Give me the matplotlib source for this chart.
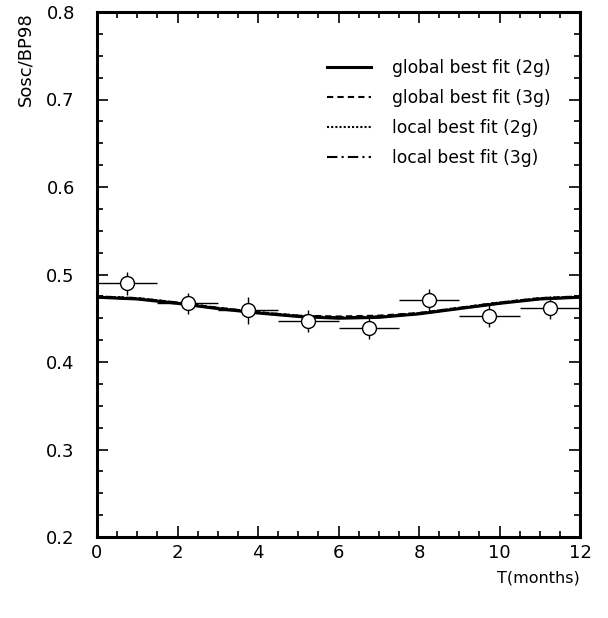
import matplotlib
matplotlib.use("Agg")
import matplotlib.pyplot as plt
import numpy as np
from matplotlib.ticker import MultipleLocator

# Data points (bins of 1.5 months)
t_data = [0.75, 2.25, 3.75, 5.25, 6.75, 8.25, 9.75, 11.25]
t_err = [0.75, 0.75, 0.75, 0.75, 0.75, 0.75, 0.75, 0.75]
r_data = [0.490, 0.467, 0.459, 0.447, 0.439, 0.471, 0.453, 0.462]
r_err = [0.013, 0.012, 0.015, 0.013, 0.013, 0.013, 0.013, 0.013]

# Fit curves
t_curve = [0, 1, 2, 3, 4, 5, 6, 7, 8, 9, 10, 11, 12]
glob2g = [0.474, 0.472, 0.467, 0.461, 0.456, 0.452, 0.450, 0.451, 0.455, 0.461, 0.467, 0.472, 0.474]
glob3g = [0.475, 0.473, 0.468, 0.462, 0.457, 0.453, 0.452, 0.453, 0.456, 0.462, 0.468, 0.473, 0.475]
loc2g = [0.475, 0.473, 0.468, 0.462, 0.457, 0.453, 0.451, 0.452, 0.456, 0.462, 0.468, 0.473, 0.475]
loc3g = [0.474, 0.472, 0.467, 0.461, 0.456, 0.452, 0.451, 0.452, 0.455, 0.461, 0.467, 0.472, 0.474]

labels = ["global best fit (2g)", "global best fit (3g)",
          "local best fit (2g)", "local best fit (3g)"]

fig = plt.figure(figsize=(6.08, 6.18), dpi=100)
ax = fig.add_axes([97/608, 81/618, 483/608, 525/618])

ax.plot(t_curve, glob2g, color="black", lw=2.2, ls="-", label=labels[0])
ax.plot(t_curve, glob3g, color="black", lw=1.5, ls=(0, (3, 2)), label=labels[1])
ax.plot(t_curve, loc2g, color="black", lw=1.5, ls=(0, (1, 1)), label=labels[2])
ax.plot(t_curve, loc3g, color="black", lw=1.5, ls=(0, (5, 2, 1, 2)), label=labels[3])

ax.errorbar(t_data, r_data, xerr=t_err, yerr=r_err, fmt="o", color="black",
            mfc="white", mec="black", ms=10, mew=1.0, elinewidth=1.0, capsize=0,
            zorder=5)

ax.set_xlim(0, 12)
ax.set_ylim(0.2, 0.8)
ax.xaxis.set_major_locator(MultipleLocator(2))
ax.xaxis.set_minor_locator(MultipleLocator(0.5))
ax.yaxis.set_major_locator(MultipleLocator(0.1))
ax.yaxis.set_minor_locator(MultipleLocator(0.025))
ax.tick_params(which="both", direction="in", top=True, right=True, width=1.2)
ax.tick_params(which="major", length=8, labelsize=13)
ax.tick_params(axis="y", which="major", pad=16)
ax.tick_params(axis="x", which="major", pad=5)
ax.tick_params(which="minor", length=4.5)
for s in ax.spines.values():
    s.set_linewidth(2.2)
ax.set_yticks(np.arange(0.2, 0.81, 0.1))
ax.set_yticklabels([f"{v:.1f}" for v in np.arange(0.2, 0.81, 0.1)])

fig.text(25/608, 1 - 12/618, "Sosc/BP98", rotation=90, ha="center", va="top",
         fontsize=13, family="DejaVu Sans")
fig.text(580/608, 1 - 578/618, "T(months)", ha="right", va="center",
         fontsize=11.5, family="DejaVu Sans")

leg = ax.legend(loc="upper left", bbox_to_anchor=(327/608, 1 - 59/618),
                bbox_transform=fig.transFigure, frameon=False,
                fontsize=12.3, handlelength=2.57, handletextpad=1.23,
                labelspacing=0.71, borderaxespad=0, borderpad=0)

fig.savefig("out.png", dpi=100)
